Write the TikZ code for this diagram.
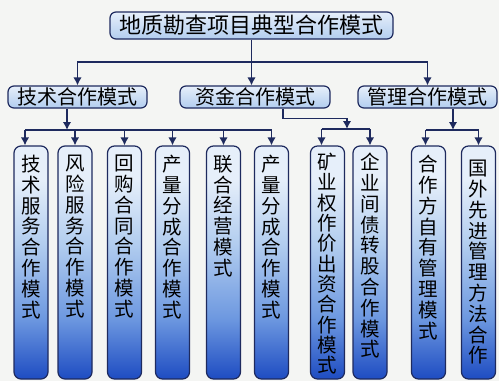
\documentclass[tikz,border=0pt]{standalone}
\usepackage{fontspec}
\setmainfont{Noto Sans CJK SC}
\usetikzlibrary{arrows.meta,calc}

\definecolor{navy}{HTML}{1E2A5E}
\definecolor{bgcol}{HTML}{F4F5F3}
\definecolor{paleblue}{HTML}{E6EFFA}
\definecolor{lightblue}{HTML}{B2CDEF}
\definecolor{midblue}{HTML}{6D98E0}
\definecolor{deepblue}{HTML}{1E4CC2}

\pgfdeclareverticalshading{colshade}{100bp}{color(0bp)=(deepblue); color(25bp)=(deepblue); color(38bp)=(midblue); color(54bp)=(lightblue); color(68bp)=(paleblue); color(75bp)=(paleblue); color(100bp)=(paleblue)}

\tikzset{
  conn/.style={draw=navy, line width=1.5pt},
  arr/.style={conn, -{Latex[length=8pt,width=8.5pt]}},
  topbox/.style={draw=navy, line width=1.2pt, rounded corners=6pt, top color=paleblue, bottom color=lightblue, inner sep=0pt, minimum height=27pt, font=\fontsize{22}{22}\selectfont},
  midbox/.style={draw=navy, line width=1.2pt, rounded corners=6pt, top color=paleblue, bottom color=lightblue, inner sep=0pt, minimum height=22pt, font=\fontsize{20}{20}\selectfont},
  colbox/.style={draw=navy, line width=1.2pt, rounded corners=7pt, shading=colshade, minimum width=34pt, minimum height=233pt, inner sep=0pt},
  coltext/.style={anchor=north, align=center, inner sep=0pt, font=\fontsize{19.5}{20.8}\selectfont},
}

\begin{document}
\begin{tikzpicture}[x=1pt,y=-1pt]
\fill[bgcol] (0,0) rectangle (499,381);
\useasboundingbox (0,0) rectangle (499,381);

% top and second level
\node[topbox, minimum width=283pt] (T) at (251.5,25.5) {地质勘查项目典型合作模式};
\node[midbox, minimum width=139pt] (A) at (77.5,97) {技术合作模式};
\node[midbox, minimum width=150pt] (B) at (255,97) {资金合作模式};
\node[midbox, minimum width=139pt] (C) at (427.5,97) {管理合作模式};

% columns
\node[colbox] (c1) at (31,262.5) {};
\node[colbox] (c2) at (75,262.5) {};
\node[colbox] (c3) at (124.5,262.5) {};
\node[colbox] (c4) at (172.5,262.5) {};
\node[colbox] (c5) at (223.5,262.5) {};
\node[colbox] (c6) at (271.5,262.5) {};
\node[colbox] (c7) at (327.5,262.5) {};
\node[colbox] (c8) at (370,262.5) {};
\node[colbox] (c9) at (428.5,262.5) {};
\node[colbox] (c10) at (478.5,262.5) {};

\node[coltext] (t1) at (31,155) {技\\术\\服\\务\\合\\作\\模\\式};
\node[coltext] (t2) at (75,155) {风\\险\\服\\务\\合\\作\\模\\式};
\node[coltext] (t3) at (124.5,155) {回\\购\\合\\同\\合\\作\\模\\式};
\node[coltext] (t4) at (172.5,155) {产\\量\\分\\成\\合\\作\\模\\式};
\node[coltext] (t5) at (223.5,155) {联\\合\\经\\营\\模\\式};
\node[coltext] (t6) at (271.5,155) {产\\量\\分\\成\\合\\作\\模\\式};
\node[coltext, font=\fontsize{19.5}{20.3}\selectfont] (t7) at (327.5,153) {矿\\业\\权\\作\\价\\出\\资\\合\\作\\模\\式};
\node[coltext] (t8) at (370,153) {企\\业\\间\\债\\转\\股\\合\\作\\模\\式};
\node[coltext] (t9) at (428.5,155) {合\\作\\方\\自\\有\\管\\理\\模\\式};
\node[coltext] (t10) at (478.5,160) {国\\外\\先\\进\\管\\理\\方\\法\\合\\作};

% connectors from top
\coordinate (j0) at (251.5,62);
\draw[arr] (T.south) -- (T.south |- B.north);
\draw[arr] (j0) -| (A.north);
\draw[arr] (j0) -| (C.north);

% technical branch
\coordinate (ja) at (67,130);
\draw[arr] (A.south -| ja) -- (ja);
\draw[conn] ([xshift=-6pt]c1.north |- ja) -- (c6.north |- ja);
\draw[arr] ([xshift=-6pt]c1.north |- ja) -- ([xshift=-6pt]c1.north);
\foreach \i in {2,...,6} { \draw[arr] (c\i.north |- ja) -- (c\i.north); }

% capital branch
\coordinate (jb) at (347,129);
\draw[arr] ([xshift=28pt]B.south) -- ++(0,10) -| (jb);
\draw[conn] ([xshift=-6pt]c7.north |- jb) -- (c8.north |- jb);
\draw[arr] ([xshift=-6pt]c7.north |- jb) -- ([xshift=-6pt]c7.north);
\draw[arr] (c8.north |- jb) -- (c8.north);

% management branch
\coordinate (jc) at (453,130);
\draw[arr] (C.south -| jc) -- (jc);
\draw[conn] ([xshift=-3pt]c9.north |- jc) -- (c10.north |- jc);
\draw[arr] ([xshift=-3pt]c9.north |- jc) -- ([xshift=-3pt]c9.north);
\draw[arr] (c10.north |- jc) -- (c10.north);
\end{tikzpicture}
\end{document}
